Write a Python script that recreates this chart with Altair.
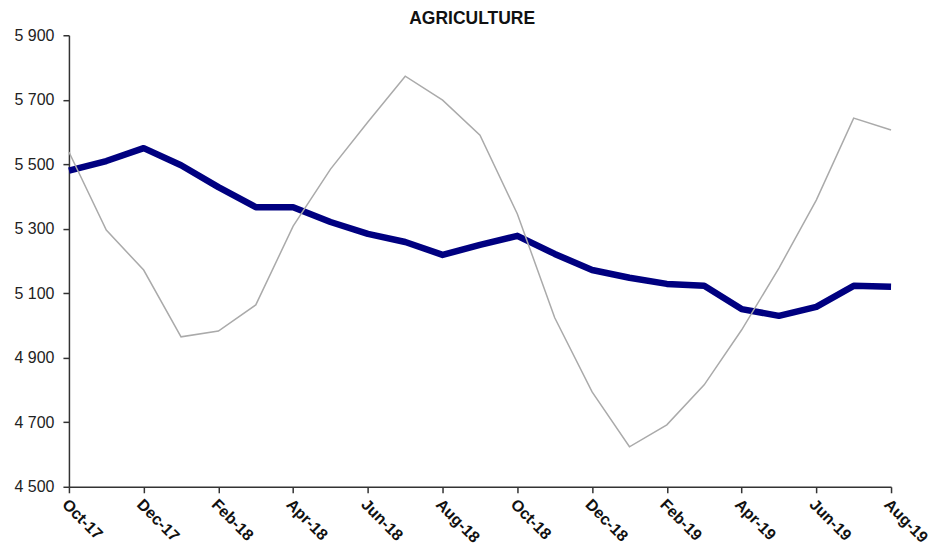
import altair as alt
import pandas as pd

months = ["Oct-17", "Nov-17", "Dec-17", "Jan-18", "Feb-18", "Mar-18", "Apr-18",
          "May-18", "Jun-18", "Jul-18", "Aug-18", "Sep-18", "Oct-18", "Nov-18",
          "Dec-18", "Jan-19", "Feb-19", "Mar-19", "Apr-19", "May-19", "Jun-19",
          "Jul-19", "Aug-19"]
trend = [5480, 5510, 5550, 5497, 5429, 5367, 5367, 5321, 5284, 5259, 5219, 5250,
         5278, 5222, 5172, 5148, 5129, 5123, 5051, 5030, 5058, 5123, 5120]
raw = [5538, 5296, 5172, 4965, 4983, 5064, 5308, 5485, 5631, 5773, 5699, 5590,
       5346, 5024, 4794, 4624, 4692, 4816, 4986, 5178, 5389, 5643, 5606]
tick_months = months[::2]
y_ticks = [4500, 4700, 4900, 5100, 5300, 5500, 5700, 5900]

df = pd.DataFrame({"month": months, "trend": trend, "raw": raw})

FONT = "Liberation Sans"

x = alt.X(
    "month:N", sort=months,
    scale=alt.Scale(type="point", padding=0),
    axis=alt.Axis(values=tick_months, labelAngle=45, labelAlign="left",
                  labelBaseline="top", title=None, tickSize=6, labelPadding=3,
                  labelOffset=1,
                  labelFont=FONT, labelFontSize=16, labelFontWeight="bold",
                  labelColor="#111111",
                  domainColor="#333333", tickColor="#333333", domainWidth=1.5,
                  tickWidth=1.5, grid=False, labelFlush=False, labelOverlap=False),
)
yscale = alt.Scale(domain=[4500, 5900], nice=False, zero=False)
yaxis = alt.Axis(values=y_ticks, title=None, tickSize=6, labelPadding=9,
                 labelExpr="replace(format(datum.value, ','), ',', ' ')",
                 labelFont=FONT, labelFontSize=16, labelColor="#222222",
                 domainColor="#333333", tickColor="#333333", domainWidth=1.5,
                 tickWidth=1.5, grid=False, labelFlush=False)

base = alt.Chart(df)
navy = base.mark_line(color="#000080", strokeWidth=6.5, strokeJoin="round").encode(
    x=x, y=alt.Y("trend:Q", scale=yscale, axis=yaxis))
gray = base.mark_line(color="#aaaaaa", strokeWidth=1.5).encode(
    x=x, y=alt.Y("raw:Q", scale=yscale, axis=yaxis))

chart = alt.layer(navy, gray).properties(
    width=823, height=452,
    title=alt.TitleParams("AGRICULTURE", font=FONT, fontSize=17.5, fontWeight="bold",
                          color="#111111", anchor="middle", frame="bounds", offset=0),
    autosize=alt.AutoSizeParams(type="none"),
    padding={"left": 61, "top": 27, "right": 40, "bottom": 64},
).configure(background="white", view=alt.ViewConfig(stroke=None))

chart.save("out.html", embed_options={"renderer": "svg", "actions": False})
